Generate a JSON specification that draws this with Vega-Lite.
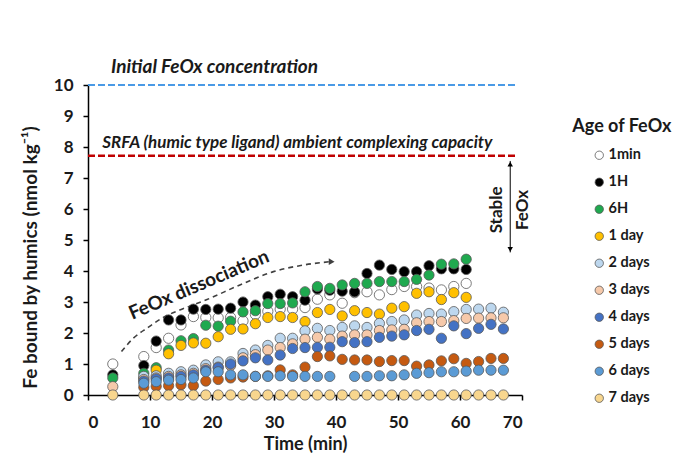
{
  "$schema": "https://vega.github.io/schema/vega-lite/v6.json",
  "autosize": "none",
  "width": 434,
  "height": 310,
  "padding": {"left": 88, "top": 85, "right": 166, "bottom": 61},
  "background": "white",
  "datasets": {
    "pts": [
      {"a":"1min","t":4,"v":1.0},{"a":"1min","t":9,"v":1.24},{"a":"1min","t":11,"v":1.53},{"a":"1min","t":13,"v":1.83},{"a":"1min","t":15,"v":2.26},{"a":"1min","t":17,"v":2.53},{"a":"1min","t":19,"v":2.5},{"a":"1min","t":21,"v":2.49},{"a":"1min","t":23,"v":2.5},{"a":"1min","t":25,"v":2.39},{"a":"1min","t":27,"v":2.6},{"a":"1min","t":29,"v":2.7},{"a":"1min","t":31,"v":2.77},{"a":"1min","t":33,"v":2.77},{"a":"1min","t":35,"v":2.82},{"a":"1min","t":37,"v":3.09},{"a":"1min","t":39,"v":3.23},{"a":"1min","t":41,"v":2.96},{"a":"1min","t":43,"v":3.3},{"a":"1min","t":45,"v":3.33},{"a":"1min","t":47,"v":3.23},{"a":"1min","t":49,"v":3.4},{"a":"1min","t":51,"v":3.5},{"a":"1min","t":53,"v":3.5},{"a":"1min","t":55,"v":3.45},{"a":"1min","t":57,"v":3.39},{"a":"1min","t":59,"v":3.5},{"a":"1min","t":61,"v":3.6},
      {"a":"1H","t":4,"v":0.65},{"a":"1H","t":9,"v":0.95},{"a":"1H","t":11,"v":1.74},{"a":"1H","t":13,"v":2.42},{"a":"1H","t":15,"v":2.42},{"a":"1H","t":17,"v":2.77},{"a":"1H","t":19,"v":2.76},{"a":"1H","t":21,"v":2.77},{"a":"1H","t":23,"v":2.8},{"a":"1H","t":25,"v":3.0},{"a":"1H","t":27,"v":2.9},{"a":"1H","t":29,"v":3.17},{"a":"1H","t":31,"v":3.25},{"a":"1H","t":33,"v":3.17},{"a":"1H","t":35,"v":3.06},{"a":"1H","t":37,"v":3.42},{"a":"1H","t":39,"v":3.38},{"a":"1H","t":41,"v":3.35},{"a":"1H","t":43,"v":3.33},{"a":"1H","t":45,"v":3.92},{"a":"1H","t":47,"v":4.19},{"a":"1H","t":49,"v":4.05},{"a":"1H","t":51,"v":3.98},{"a":"1H","t":53,"v":3.98},{"a":"1H","t":55,"v":4.17},{"a":"1H","t":57,"v":4.07},{"a":"1H","t":59,"v":4.07},{"a":"1H","t":61,"v":4.05},
      {"a":"6H","t":4,"v":0.55},{"a":"6H","t":9,"v":0.7},{"a":"6H","t":11,"v":0.88},{"a":"6H","t":13,"v":1.45},{"a":"6H","t":15,"v":1.75},{"a":"6H","t":17,"v":1.82},{"a":"6H","t":19,"v":2.25},{"a":"6H","t":21,"v":2.22},{"a":"6H","t":23,"v":2.38},{"a":"6H","t":25,"v":2.68},{"a":"6H","t":27,"v":2.72},{"a":"6H","t":29,"v":2.95},{"a":"6H","t":31,"v":2.95},{"a":"6H","t":33,"v":2.97},{"a":"6H","t":35,"v":3.33},{"a":"6H","t":37,"v":3.5},{"a":"6H","t":39,"v":3.44},{"a":"6H","t":41,"v":3.55},{"a":"6H","t":43,"v":3.6},{"a":"6H","t":45,"v":3.6},{"a":"6H","t":47,"v":3.66},{"a":"6H","t":49,"v":3.66},{"a":"6H","t":51,"v":3.66},{"a":"6H","t":53,"v":3.73},{"a":"6H","t":55,"v":3.87},{"a":"6H","t":57,"v":4.22},{"a":"6H","t":59,"v":4.23},{"a":"6H","t":61,"v":4.38},
      {"a":"1 day","t":9,"v":0.55},{"a":"1 day","t":11,"v":0.8},{"a":"1 day","t":13,"v":1.33},{"a":"1 day","t":15,"v":1.6},{"a":"1 day","t":17,"v":1.68},{"a":"1 day","t":19,"v":1.67},{"a":"1 day","t":21,"v":1.88},{"a":"1 day","t":23,"v":2.12},{"a":"1 day","t":25,"v":2.13},{"a":"1 day","t":27,"v":2.3},{"a":"1 day","t":29,"v":2.5},{"a":"1 day","t":31,"v":2.53},{"a":"1 day","t":33,"v":2.5},{"a":"1 day","t":35,"v":2.37},{"a":"1 day","t":37,"v":2.66},{"a":"1 day","t":39,"v":2.76},{"a":"1 day","t":41,"v":2.55},{"a":"1 day","t":43,"v":2.72},{"a":"1 day","t":45,"v":2.66},{"a":"1 day","t":47,"v":2.61},{"a":"1 day","t":49,"v":2.8},{"a":"1 day","t":51,"v":2.85},{"a":"1 day","t":53,"v":3.28},{"a":"1 day","t":55,"v":3.33},{"a":"1 day","t":57,"v":3.08},{"a":"1 day","t":59,"v":3.3},{"a":"1 day","t":61,"v":3.15},
      {"a":"2 days","t":9,"v":0.6},{"a":"2 days","t":11,"v":0.62},{"a":"2 days","t":13,"v":0.7},{"a":"2 days","t":15,"v":0.75},{"a":"2 days","t":17,"v":0.8},{"a":"2 days","t":19,"v":0.97},{"a":"2 days","t":21,"v":1.07},{"a":"2 days","t":23,"v":1.07},{"a":"2 days","t":25,"v":1.34},{"a":"2 days","t":27,"v":1.45},{"a":"2 days","t":29,"v":1.6},{"a":"2 days","t":31,"v":1.83},{"a":"2 days","t":33,"v":1.83},{"a":"2 days","t":35,"v":2.07},{"a":"2 days","t":37,"v":2.15},{"a":"2 days","t":39,"v":2.08},{"a":"2 days","t":41,"v":2.18},{"a":"2 days","t":43,"v":2.23},{"a":"2 days","t":45,"v":2.18},{"a":"2 days","t":47,"v":2.31},{"a":"2 days","t":49,"v":2.37},{"a":"2 days","t":51,"v":2.42},{"a":"2 days","t":53,"v":2.58},{"a":"2 days","t":55,"v":2.63},{"a":"2 days","t":57,"v":2.61},{"a":"2 days","t":59,"v":2.69},{"a":"2 days","t":61,"v":2.76},{"a":"2 days","t":63,"v":2.77},{"a":"2 days","t":65,"v":2.8},{"a":"2 days","t":67,"v":2.67},
      {"a":"3 days","t":4,"v":0.27},{"a":"3 days","t":9,"v":0.5},{"a":"3 days","t":11,"v":0.55},{"a":"3 days","t":13,"v":0.6},{"a":"3 days","t":15,"v":0.65},{"a":"3 days","t":17,"v":0.7},{"a":"3 days","t":19,"v":0.85},{"a":"3 days","t":21,"v":0.9},{"a":"3 days","t":23,"v":0.95},{"a":"3 days","t":25,"v":1.2},{"a":"3 days","t":27,"v":1.3},{"a":"3 days","t":29,"v":1.45},{"a":"3 days","t":31,"v":1.53},{"a":"3 days","t":33,"v":1.65},{"a":"3 days","t":35,"v":1.8},{"a":"3 days","t":37,"v":1.86},{"a":"3 days","t":39,"v":1.8},{"a":"3 days","t":41,"v":1.9},{"a":"3 days","t":43,"v":1.94},{"a":"3 days","t":45,"v":1.94},{"a":"3 days","t":47,"v":2.08},{"a":"3 days","t":49,"v":2.1},{"a":"3 days","t":51,"v":2.12},{"a":"3 days","t":53,"v":2.33},{"a":"3 days","t":55,"v":2.37},{"a":"3 days","t":57,"v":2.37},{"a":"3 days","t":59,"v":2.4},{"a":"3 days","t":61,"v":2.47},{"a":"3 days","t":63,"v":2.48},{"a":"3 days","t":65,"v":2.49},{"a":"3 days","t":67,"v":2.49},
      {"a":"4 days","t":9,"v":0.45},{"a":"4 days","t":11,"v":0.52},{"a":"4 days","t":13,"v":0.55},{"a":"4 days","t":15,"v":0.6},{"a":"4 days","t":17,"v":0.65},{"a":"4 days","t":19,"v":0.8},{"a":"4 days","t":21,"v":0.88},{"a":"4 days","t":23,"v":1.0},{"a":"4 days","t":25,"v":1.1},{"a":"4 days","t":27,"v":1.2},{"a":"4 days","t":29,"v":1.13},{"a":"4 days","t":31,"v":1.29},{"a":"4 days","t":33,"v":1.5},{"a":"4 days","t":35,"v":1.53},{"a":"4 days","t":37,"v":1.54},{"a":"4 days","t":39,"v":1.54},{"a":"4 days","t":41,"v":1.72},{"a":"4 days","t":43,"v":1.69},{"a":"4 days","t":45,"v":1.72},{"a":"4 days","t":47,"v":1.86},{"a":"4 days","t":49,"v":1.9},{"a":"4 days","t":51,"v":1.94},{"a":"4 days","t":53,"v":2.08},{"a":"4 days","t":55,"v":2.12},{"a":"4 days","t":57,"v":1.83},{"a":"4 days","t":59,"v":2.23},{"a":"4 days","t":61,"v":1.98},{"a":"4 days","t":63,"v":2.15},{"a":"4 days","t":65,"v":2.28},{"a":"4 days","t":67,"v":2.13},
      {"a":"5 days","t":9,"v":0.25},{"a":"5 days","t":11,"v":0.28},{"a":"5 days","t":13,"v":0.3},{"a":"5 days","t":15,"v":0.33},{"a":"5 days","t":17,"v":0.3},{"a":"5 days","t":19,"v":0.45},{"a":"5 days","t":21,"v":0.5},{"a":"5 days","t":23,"v":0.55},{"a":"5 days","t":25,"v":0.58},{"a":"5 days","t":27,"v":0.6},{"a":"5 days","t":29,"v":0.62},{"a":"5 days","t":31,"v":0.81},{"a":"5 days","t":33,"v":0.65},{"a":"5 days","t":35,"v":0.9},{"a":"5 days","t":37,"v":1.24},{"a":"5 days","t":39,"v":1.26},{"a":"5 days","t":41,"v":1.15},{"a":"5 days","t":43,"v":1.13},{"a":"5 days","t":45,"v":1.13},{"a":"5 days","t":47,"v":1.08},{"a":"5 days","t":49,"v":1.11},{"a":"5 days","t":51,"v":1.11},{"a":"5 days","t":53,"v":0.93},{"a":"5 days","t":55,"v":0.97},{"a":"5 days","t":57,"v":1.1},{"a":"5 days","t":59,"v":1.17},{"a":"5 days","t":61,"v":1.02},{"a":"5 days","t":63,"v":1.08},{"a":"5 days","t":65,"v":1.18},{"a":"5 days","t":67,"v":1.18},
      {"a":"6 days","t":9,"v":0.38},{"a":"6 days","t":11,"v":0.43},{"a":"6 days","t":13,"v":0.48},{"a":"6 days","t":15,"v":0.5},{"a":"6 days","t":17,"v":0.55},{"a":"6 days","t":19,"v":0.75},{"a":"6 days","t":21,"v":0.75},{"a":"6 days","t":23,"v":0.65},{"a":"6 days","t":25,"v":0.65},{"a":"6 days","t":27,"v":0.6},{"a":"6 days","t":29,"v":0.6},{"a":"6 days","t":31,"v":0.62},{"a":"6 days","t":33,"v":0.6},{"a":"6 days","t":35,"v":0.6},{"a":"6 days","t":37,"v":0.6},{"a":"6 days","t":39,"v":0.6},{"a":"6 days","t":43,"v":0.6},{"a":"6 days","t":45,"v":0.6},{"a":"6 days","t":47,"v":0.62},{"a":"6 days","t":49,"v":0.62},{"a":"6 days","t":51,"v":0.65},{"a":"6 days","t":53,"v":0.7},{"a":"6 days","t":55,"v":0.72},{"a":"6 days","t":57,"v":0.75},{"a":"6 days","t":59,"v":0.75},{"a":"6 days","t":61,"v":0.77},{"a":"6 days","t":63,"v":0.8},{"a":"6 days","t":65,"v":0.8},{"a":"6 days","t":67,"v":0.8},
      {"a":"7 days","t":4,"v":0},{"a":"7 days","t":9,"v":0},{"a":"7 days","t":11,"v":0},{"a":"7 days","t":13,"v":0},{"a":"7 days","t":15,"v":0},{"a":"7 days","t":17,"v":0},{"a":"7 days","t":19,"v":0},{"a":"7 days","t":21,"v":0},{"a":"7 days","t":23,"v":0},{"a":"7 days","t":25,"v":0},{"a":"7 days","t":27,"v":0},{"a":"7 days","t":29,"v":0},{"a":"7 days","t":31,"v":0},{"a":"7 days","t":33,"v":0},{"a":"7 days","t":35,"v":0},{"a":"7 days","t":37,"v":0},{"a":"7 days","t":39,"v":0},{"a":"7 days","t":41,"v":0},{"a":"7 days","t":43,"v":0},{"a":"7 days","t":45,"v":0},{"a":"7 days","t":47,"v":0},{"a":"7 days","t":49,"v":0},{"a":"7 days","t":51,"v":0},{"a":"7 days","t":53,"v":0},{"a":"7 days","t":55,"v":0},{"a":"7 days","t":57,"v":0},{"a":"7 days","t":59,"v":0},{"a":"7 days","t":61,"v":0},{"a":"7 days","t":63,"v":0},{"a":"7 days","t":65,"v":0},{"a":"7 days","t":67,"v":0}
    ],
    "curve": [
      {"t":5.4,"v":1.4},{"t":7.3,"v":1.83},{"t":9.7,"v":2.18},{"t":12.2,"v":2.51},{"t":14.8,"v":2.74},{"t":19.2,"v":3.08},{"t":24.5,"v":3.55},{"t":29.9,"v":3.98},{"t":34.7,"v":4.19},{"t":39.0,"v":4.3}
    ],
    "one": [{}]
  },
  "resolve": {"axis": {"x": "independent", "y": "independent"}},
  "layer": [
    {
      "data": {"name": "one"},
      "mark": {"type": "rule", "color": "#4A9AE6", "strokeWidth": 2, "strokeDash": [7, 3]},
      "encoding": {
        "x": {"datum": 0, "type": "quantitative", "axis": null},
        "x2": {"datum": 69},
        "y": {"datum": 10, "type": "quantitative", "axis": null}
      }
    },
    {
      "data": {"name": "one"},
      "mark": {"type": "rule", "color": "#C00000", "strokeWidth": 2.5, "strokeDash": [7, 3]},
      "encoding": {
        "x": {"datum": 0, "type": "quantitative", "axis": null},
        "x2": {"datum": 69},
        "y": {"datum": 7.72, "type": "quantitative", "axis": null}
      }
    },
    {
      "data": {"name": "curve"},
      "mark": {"type": "line", "color": "#404040", "strokeWidth": 1.6, "strokeDash": [5, 4], "interpolate": "monotone"},
      "encoding": {
        "x": {"field": "t", "type": "quantitative", "axis": null},
        "y": {"field": "v", "type": "quantitative", "axis": null}
      }
    },
    {
      "data": {"name": "one"},
      "mark": {"type": "point", "shape": "triangle-right", "filled": true, "color": "#404040", "size": 45, "opacity": 1},
      "encoding": {
        "x": {"datum": 39.3, "type": "quantitative", "axis": null},
        "y": {"datum": 4.3, "type": "quantitative", "axis": null}
      }
    },
    {
      "data": {"name": "one"},
      "mark": {"type": "rule", "color": "#000000", "strokeWidth": 1},
      "encoding": {
        "x": {"datum": 68.1, "type": "quantitative", "axis": null},
        "y": {"datum": 7.55, "type": "quantitative", "axis": null},
        "y2": {"datum": 4.6}
      }
    },
    {
      "data": {"name": "one"},
      "mark": {"type": "point", "shape": "triangle-up", "filled": true, "color": "#000000", "size": 30, "opacity": 1},
      "encoding": {
        "x": {"datum": 68.1, "type": "quantitative", "axis": null},
        "y": {"datum": 7.45, "type": "quantitative", "axis": null}
      }
    },
    {
      "data": {"name": "one"},
      "mark": {"type": "point", "shape": "triangle-down", "filled": true, "color": "#000000", "size": 30, "opacity": 1},
      "encoding": {
        "x": {"datum": 68.1, "type": "quantitative", "axis": null},
        "y": {"datum": 4.7, "type": "quantitative", "axis": null}
      }
    },
    {
      "data": {"name": "one"},
      "mark": {"type": "text", "text": "Initial FeOx concentration", "font": "Lato", "fontSize": 19, "fontWeight": "bold", "fontStyle": "italic", "align": "left", "baseline": "middle", "color": "#1a1a1a"},
      "encoding": {
        "x": {"datum": 3.7, "type": "quantitative", "axis": null},
        "y": {"datum": 10.58, "type": "quantitative", "axis": null}
      }
    },
    {
      "data": {"name": "one"},
      "mark": {"type": "text", "text": "SRFA (humic type ligand) ambient complexing capacity", "font": "Lato", "fontSize": 17, "fontWeight": "bold", "fontStyle": "italic", "align": "left", "baseline": "middle", "color": "#1a1a1a"},
      "encoding": {
        "x": {"datum": 2.3, "type": "quantitative", "axis": null},
        "y": {"datum": 8.13, "type": "quantitative", "axis": null}
      }
    },
    {
      "data": {"name": "one"},
      "mark": {"type": "text", "text": "FeOx dissociation", "font": "Lato", "fontSize": 19, "fontWeight": "bold", "angle": -23, "align": "center", "baseline": "middle", "color": "#1a1a1a"},
      "encoding": {
        "x": {"datum": 17.9, "type": "quantitative", "axis": null},
        "y": {"datum": 3.55, "type": "quantitative", "axis": null}
      }
    },
    {
      "data": {"name": "one"},
      "mark": {"type": "text", "text": "Stable", "font": "Lato", "fontSize": 17, "fontWeight": "bold", "angle": -90, "align": "center", "baseline": "middle", "color": "#1a1a1a"},
      "encoding": {
        "x": {"datum": 66.0, "type": "quantitative", "axis": null},
        "y": {"datum": 5.97, "type": "quantitative", "axis": null}
      }
    },
    {
      "data": {"name": "one"},
      "mark": {"type": "text", "text": "FeOx", "font": "Lato", "fontSize": 17, "fontWeight": "bold", "angle": -90, "align": "center", "baseline": "middle", "color": "#1a1a1a"},
      "encoding": {
        "x": {"datum": 70.2, "type": "quantitative", "axis": null},
        "y": {"datum": 5.97, "type": "quantitative", "axis": null}
      }
    },
    {
      "data": {"name": "one"},
      "mark": {"type": "text", "text": "Age of FeOx", "font": "Lato", "fontSize": 18, "fontWeight": "bold", "align": "center", "baseline": "middle", "color": "#1a1a1a"},
      "encoding": {
        "x": {"datum": 86.1, "type": "quantitative", "axis": null},
        "y": {"datum": 8.65, "type": "quantitative", "axis": null}
      }
    },
    {
      "data": {"name": "pts"},
      "mark": {"type": "circle", "size": 105, "opacity": 1, "stroke": "#595959", "strokeWidth": 0.8},
      "encoding": {
        "x": {"field": "t", "type": "quantitative", "scale": {"domain": [0, 70]},
              "axis": {"title": "Time (min)", "values": [0, 10, 20, 30, 40, 50, 60, 70], "labelPadding": 14, "titlePadding": 5}},
        "y": {"field": "v", "type": "quantitative", "scale": {"domain": [0, 10]},
              "axis": {"title": "Fe bound by humics (nmol kg⁻¹)", "values": [0, 1, 2, 3, 4, 5, 6, 7, 8, 9, 10], "labelPadding": 10, "titleFontSize": 19, "titleX": -58, "titleY": 172, "titleAngle": -90, "titleAlign": "center", "titleBaseline": "middle"}},
        "fill": {"field": "a", "type": "nominal",
                 "scale": {"domain": ["1min", "1H", "6H", "1 day", "2 days", "3 days", "4 days", "5 days", "6 days", "7 days"],
                           "range": ["#FFFFFF", "#000000", "#1FA94F", "#FFC000", "#BDD7EE", "#F6C9AA", "#4472C4", "#C55A11", "#5B9BD5", "#F8D68E"]},
                 "legend": {"title": null, "orient": "none", "legendX": 504, "legendY": 63, "padding": 0, "symbolType": "circle", "symbolSize": 70, "symbolStrokeColor": "#595959", "symbolStrokeWidth": 0.8, "symbolOpacity": 1, "labelFont": "Lato", "labelFontWeight": "bold", "labelFontSize": 14.5, "labelColor": "#1a1a1a", "labelOffset": 2, "rowPadding": 12}}
      }
    }
  ],
  "config": {
    "view": {"stroke": null},
    "axis": {"grid": false, "domainColor": "#000000", "domainWidth": 1.5, "tickColor": "#000000", "tickWidth": 1.5, "tickSize": 5,
             "labelFont": "Lato", "labelFontWeight": "bold", "labelFontSize": 17, "labelColor": "#1a1a1a",
             "titleFont": "Lato", "titleFontWeight": "bold", "titleFontSize": 18, "titleColor": "#1a1a1a"}
  }
}
